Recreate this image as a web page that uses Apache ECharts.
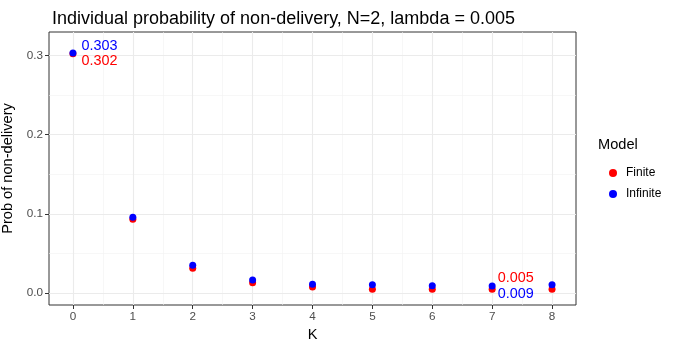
<!DOCTYPE html>
<html>
<head>
<meta charset="utf-8">
<script src="https://cdn.jsdelivr.net/npm/echarts@6/dist/echarts.min.js"></script>
<style>
  html, body { margin: 0; padding: 0; background: #fff; }
  #chart { width: 679px; height: 350px; }
</style>
</head>
<body>
<div id="chart"></div>
<script>
// data
const kValues = [0, 1, 2, 3, 4, 5, 6, 7, 8];
const finiteProb = [0.302, 0.0933, 0.0315, 0.013, 0.0076, 0.005, 0.005, 0.005, 0.005];
const infiniteProb = [0.303, 0.0958, 0.0353, 0.0164, 0.0113, 0.0105, 0.0092, 0.009, 0.0105];
const xTicks = [0, 1, 2, 3, 4, 5, 6, 7, 8];
const xMinor = [0.5, 1.5, 2.5, 3.5, 4.5, 5.5, 6.5, 7.5];
const yTicks = [0, 0.1, 0.2, 0.3];
const yMinor = [0.05, 0.15, 0.25];
const labelledK = [0, 7];

const FONT = "Liberation Sans";
const chart = echarts.init(document.getElementById("chart"));

// 数据点 + 指定位置的数值标签
function makePoints(values, labelPos) {
  return kValues.map((k, i) => {
    const item = { value: [k, values[i]] };
    if (labelledK.includes(k)) {
      item.label = {
        show: true,
        position: "right",
        offset: labelPos[k],
        formatter: values[i].toFixed(3),
      };
    }
    return item;
  });
}

const majorStyle = { color: "#EBEBEB", width: 1.1, type: "solid" };
const minorStyle = { color: "#F2F2F2", width: 0.6, type: "solid" };
const gridLines = [
  ...xMinor.map((v) => ({ xAxis: v, lineStyle: minorStyle })),
  ...yMinor.map((v) => ({ yAxis: v, lineStyle: minorStyle })),
  ...xTicks.map((v) => ({ xAxis: v, lineStyle: majorStyle })),
  ...yTicks.map((v) => ({ yAxis: v, lineStyle: majorStyle })),
];

const option = {
  animation: false,
  textStyle: { fontFamily: FONT },
  title: {
    text: "Individual probability of non-delivery, N=2, lambda = 0.005",
    left: 47,
    top: 5,
    textStyle: { fontFamily: FONT, fontSize: 18, fontWeight: "normal", color: "#000" },
  },
  grid: {
    left: 49,
    right: 103,
    top: 32,
    bottom: 45,
    outerBoundsMode: "none",
    containLabel: false,
    show: true,
    backgroundColor: "#fff",
    borderColor: "#333",
    borderWidth: 1,
  },
  legend: {
    orient: "vertical",
    left: 604,
    top: 162,
    itemWidth: 8,
    itemHeight: 8,
    itemGap: 9,
    icon: "circle",
    data: ["Finite", "Infinite"],
    textStyle: { fontFamily: FONT, fontSize: 12, color: "#000", padding: [0, 0, 0, 4] },
  },
  graphic: [
    {
      type: "text",
      left: 598,
      top: 137,
      style: { text: "Model", font: "14.6px " + FONT, fill: "#000" },
    },
  ],
  xAxis: {
    type: "value",
    min: -0.4,
    max: 8.4,
    name: "K",
    nameLocation: "middle",
    nameGap: 22,
    nameTextStyle: { fontFamily: FONT, fontSize: 14.6, color: "#000" },
    axisLine: { show: false, onZero: false },
    axisTick: { show: true, length: 4, lineStyle: { color: "#333" }, customValues: xTicks },
    axisLabel: {
      customValues: xTicks,
      color: "#4D4D4D",
      fontSize: 11.7,
      margin: 6,
      formatter: (v) => String(v),
    },
    splitLine: { show: false },
  },
  yAxis: {
    type: "value",
    min: -0.015,
    max: 0.3295,
    name: "Prob of non-delivery",
    nameLocation: "middle",
    nameGap: 34,
    nameTextStyle: { fontFamily: FONT, fontSize: 14.6, color: "#000" },
    axisLine: { show: false, onZero: false },
    axisTick: { show: true, length: 4, lineStyle: { color: "#333" }, customValues: yTicks },
    axisLabel: {
      customValues: yTicks,
      color: "#4D4D4D",
      fontSize: 11.7,
      margin: 6,
      formatter: (v) => v.toFixed(1),
    },
    splitLine: { show: false },
  },
  series: [
    {
      name: "grid",
      type: "line",
      data: [],
      z: 0,
      silent: true,
      markLine: {
        z: 0,
        silent: true,
        symbol: "none",
        label: { show: false },
        data: gridLines,
      },
    },
    {
      name: "Finite",
      type: "scatter",
      symbolSize: 7,
      z: 3,
      itemStyle: { color: "#FF0000", opacity: 1 },
      label: { color: "#FF0000", fontSize: 14.4, fontFamily: FONT },
      data: makePoints(finiteProb, { 0: [0, 7], 7: [-3, -11] }),
    },
    {
      name: "Infinite",
      type: "scatter",
      symbolSize: 7,
      z: 4,
      itemStyle: { color: "#0000FF", opacity: 1 },
      label: { color: "#0000FF", fontSize: 14.4, fontFamily: FONT },
      data: makePoints(infiniteProb, { 0: [0, -7], 7: [-3, 8] }),
    },
  ],
};

chart.setOption(option);
</script>
</body>
</html>
